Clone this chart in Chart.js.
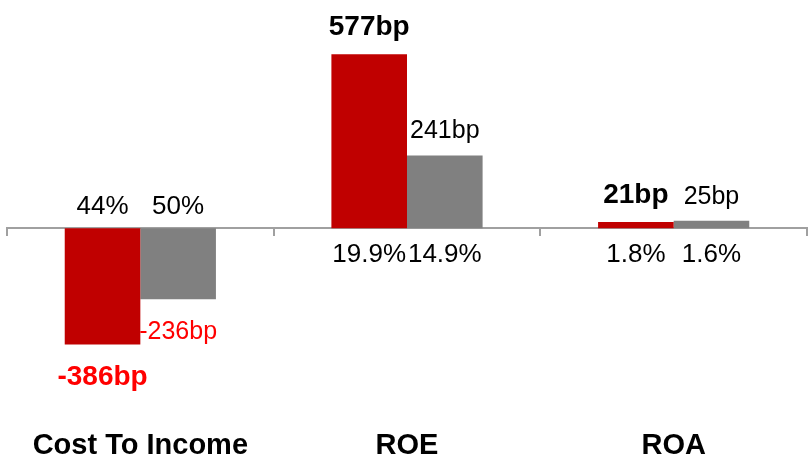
<!DOCTYPE html>
<html>
<head>
<meta charset="utf-8">
<script src="https://cdn.jsdelivr.net/npm/chart.js@4/dist/chart.umd.min.js"></script>
<style>
  html, body { margin: 0; padding: 0; background: #ffffff; }
  #wrap { width: 808px; height: 462px; position: relative; }
</style>
</head>
<body>
<div id="wrap"><canvas id="c" width="808" height="462"></canvas></div>
<script>
const categories = ['Cost To Income', 'ROE', 'ROA'];
const currentBp = [-386, 577, 21];
const previousBp = [-236, 241, 25];
const currentPct = ['44%', '19.9%', '1.8%'];
const previousPct = ['50%', '14.9%', '1.6%'];

const FONT = '"Liberation Sans", Arial, sans-serif';

const labelPlugin = {
  id: 'valueLabels',
  afterDatasetsDraw(chart) {
    const ctx = chart.ctx;
    ctx.save();
    ctx.textAlign = 'center';
    ctx.textBaseline = 'middle';
    const pctSets = [currentPct, previousPct];
    chart.data.datasets.forEach((ds, di) => {
      const meta = chart.getDatasetMeta(di);
      meta.data.forEach((bar, i) => {
        const v = ds.data[i];
        const bold = di === 0;
        const size = bold ? 28 : 25;
        ctx.font = (bold ? 'bold ' : '') + size + 'px ' + FONT;
        const txt = v + 'bp';
        let y;
        if (v >= 0) {
          ctx.fillStyle = '#000000';
          y = bar.y - (bold ? 27 : 24);
        } else {
          ctx.fillStyle = '#ff0000';
          y = bar.y + 33;
        }
        ctx.fillText(txt, bar.x, y);
        ctx.font = '26px ' + FONT;
        ctx.fillStyle = '#000000';
        const py = v >= 0 ? bar.base + 27 : bar.base - 21;
        ctx.fillText(pctSets[di][i], bar.x, py);
      });
    });
    ctx.restore();
  }
};

new Chart(document.getElementById('c'), {
  type: 'bar',
  data: {
    labels: categories,
    datasets: [
      { label: 'Current', data: currentBp, backgroundColor: '#c00000', borderWidth: 0 },
      { label: 'Previous', data: previousBp, backgroundColor: '#808080', borderWidth: 0 }
    ]
  },
  options: {
    responsive: false,
    animation: false,
    devicePixelRatio: 1,
    layout: { padding: { left: 7, right: 1, top: 0, bottom: -10 } },
    plugins: { legend: { display: false }, tooltip: { enabled: false } },
    datasets: { bar: { categoryPercentage: 0.567, barPercentage: 1.0 } },
    scales: {
      x: {
        type: 'category',
        position: { y: 0 },
        offset: true,
        grid: { display: true, drawOnChartArea: false, offset: true, tickLength: 7, color: '#a0a0a0', lineWidth: 2 },
        border: { display: true, color: '#a0a0a0', width: 2 },
        ticks: { display: false }
      },
      x2: {
        type: 'category',
        position: 'bottom',
        offset: true,
        labels: categories,
        grid: { display: false },
        border: { display: false },
        ticks: { padding: 9, color: '#000000', font: { family: FONT, size: 29, weight: 'bold' } }
      },
      y: {
        display: false,
        min: -607,
        max: 757
      }
    }
  },
  plugins: [labelPlugin]
});
</script>
</body>
</html>
